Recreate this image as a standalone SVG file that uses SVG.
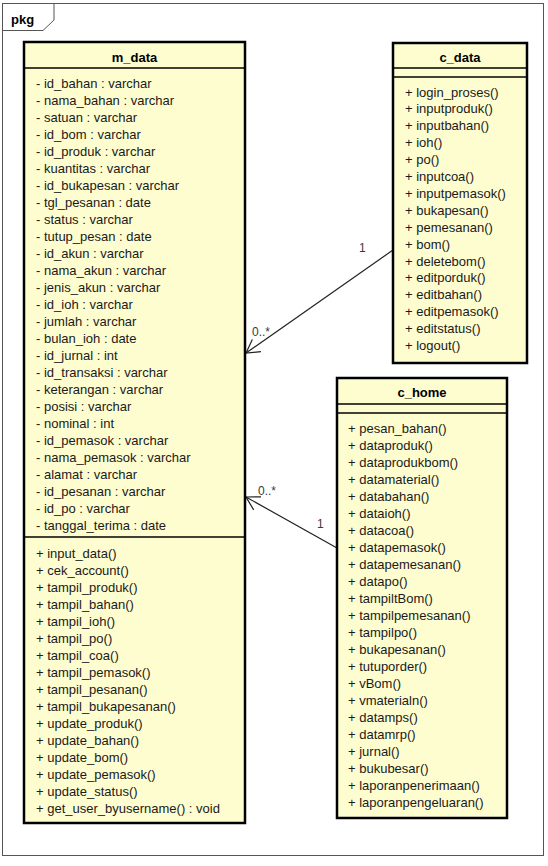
<svg xmlns="http://www.w3.org/2000/svg" width="548" height="866" viewBox="0 0 548 866">
<defs>
<style>
.box{fill:#fefdd0;stroke:#000;stroke-width:2.5}
.sep{stroke:#000;stroke-width:1.5}
.t{font-family:"Liberation Sans",Arial,sans-serif;font-size:13px;fill:#1a1a1a}
.h{font-family:"Liberation Sans",Arial,sans-serif;font-size:13px;font-weight:bold;fill:#000;text-anchor:middle}
.lbl{font-family:"Liberation Sans",Arial,sans-serif;font-size:12px;fill:#3a3a3a}
.con{stroke:#222;stroke-width:1.2;fill:none}
</style>
<marker id="arr" markerWidth="20" markerHeight="20" refX="14" refY="8" orient="auto" markerUnits="userSpaceOnUse" overflow="visible">
<path d="M1,0.5 L14,8 L1,15.5" fill="none" stroke="#222" stroke-width="1.2"/>
</marker>
</defs>
<rect width="548" height="866" fill="#fff"/>
<g id="frame">
<rect x="2.5" y="3.5" width="541" height="852" fill="none" stroke="#555" stroke-width="1"/>
<path d="M2.5,30.5 L43,30.5 L54,20 L54,3.5" fill="none" stroke="#555" stroke-width="1"/>
<text x="11" y="24" style="font-family:'Liberation Sans',Arial,sans-serif;font-size:13px;font-weight:bold;fill:#000">pkg</text>
</g>
<g id="connectors">
<line class="con" x1="393" y1="250" x2="246" y2="353" marker-end="url(#arr)"/>
<text class="lbl" x="359" y="252">1</text>
<text class="lbl" x="252" y="336">0..*</text>
<line class="con" x1="337" y1="548" x2="246" y2="497" marker-end="url(#arr)"/>
<text class="lbl" x="258" y="495">0..*</text>
<text class="lbl" x="317" y="528">1</text>
</g>
<g id="m_data">
<rect class="box" x="24" y="42" width="221" height="781"/>
<line class="sep" x1="24" y1="68" x2="245" y2="68"/>
<line class="sep" x1="24" y1="537" x2="245" y2="537"/>
<text class="h" x="134.5" y="62">m_data</text>
<text class="t" x="36" y="88">- id_bahan : varchar</text>
<text class="t" x="36" y="105">- nama_bahan : varchar</text>
<text class="t" x="36" y="122">- satuan : varchar</text>
<text class="t" x="36" y="139">- id_bom : varchar</text>
<text class="t" x="36" y="156">- id_produk : varchar</text>
<text class="t" x="36" y="173">- kuantitas : varchar</text>
<text class="t" x="36" y="190">- id_bukapesan : varchar</text>
<text class="t" x="36" y="207">- tgl_pesanan : date</text>
<text class="t" x="36" y="224">- status : varchar</text>
<text class="t" x="36" y="241">- tutup_pesan : date</text>
<text class="t" x="36" y="258">- id_akun : varchar</text>
<text class="t" x="36" y="275">- nama_akun : varchar</text>
<text class="t" x="36" y="292">- jenis_akun : varchar</text>
<text class="t" x="36" y="309">- id_ioh : varchar</text>
<text class="t" x="36" y="326">- jumlah : varchar</text>
<text class="t" x="36" y="343">- bulan_ioh : date</text>
<text class="t" x="36" y="360">- id_jurnal : int</text>
<text class="t" x="36" y="377">- id_transaksi : varchar</text>
<text class="t" x="36" y="394">- keterangan : varchar</text>
<text class="t" x="36" y="411">- posisi : varchar</text>
<text class="t" x="36" y="428">- nominal : int</text>
<text class="t" x="36" y="445">- id_pemasok : varchar</text>
<text class="t" x="36" y="462">- nama_pemasok : varchar</text>
<text class="t" x="36" y="479">- alamat : varchar</text>
<text class="t" x="36" y="496">- id_pesanan : varchar</text>
<text class="t" x="36" y="513">- id_po : varchar</text>
<text class="t" x="36" y="530">- tanggal_terima : date</text>
<text class="t" x="36" y="558">+ input_data()</text>
<text class="t" x="36" y="575">+ cek_account()</text>
<text class="t" x="36" y="592">+ tampil_produk()</text>
<text class="t" x="36" y="609">+ tampil_bahan()</text>
<text class="t" x="36" y="626">+ tampil_ioh()</text>
<text class="t" x="36" y="643">+ tampil_po()</text>
<text class="t" x="36" y="660">+ tampil_coa()</text>
<text class="t" x="36" y="677">+ tampil_pemasok()</text>
<text class="t" x="36" y="694">+ tampil_pesanan()</text>
<text class="t" x="36" y="711">+ tampil_bukapesanan()</text>
<text class="t" x="36" y="728">+ update_produk()</text>
<text class="t" x="36" y="745">+ update_bahan()</text>
<text class="t" x="36" y="762">+ update_bom()</text>
<text class="t" x="36" y="779">+ update_pemasok()</text>
<text class="t" x="36" y="796">+ update_status()</text>
<text class="t" x="36" y="813">+ get_user_byusername() : void</text>
</g>
<g id="c_data">
<rect class="box" x="393" y="43" width="134" height="320"/>
<line class="sep" x1="393" y1="68" x2="527" y2="68"/>
<line class="sep" x1="393" y1="77" x2="527" y2="77"/>
<text class="h" x="460" y="62">c_data</text>
<text class="t" x="405" y="96.5">+ login_proses()</text>
<text class="t" x="405" y="113.4">+ inputproduk()</text>
<text class="t" x="405" y="130.3">+ inputbahan()</text>
<text class="t" x="405" y="147.2">+ ioh()</text>
<text class="t" x="405" y="164.1">+ po()</text>
<text class="t" x="405" y="181">+ inputcoa()</text>
<text class="t" x="405" y="197.9">+ inputpemasok()</text>
<text class="t" x="405" y="214.8">+ bukapesan()</text>
<text class="t" x="405" y="231.7">+ pemesanan()</text>
<text class="t" x="405" y="248.6">+ bom()</text>
<text class="t" x="405" y="265.5">+ deletebom()</text>
<text class="t" x="405" y="282.4">+ editporduk()</text>
<text class="t" x="405" y="299.3">+ editbahan()</text>
<text class="t" x="405" y="316.2">+ editpemasok()</text>
<text class="t" x="405" y="333.1">+ editstatus()</text>
<text class="t" x="405" y="350">+ logout()</text>
</g>
<g id="c_home">
<rect class="box" x="337" y="378" width="170" height="440"/>
<line class="sep" x1="337" y1="404" x2="507" y2="404"/>
<line class="sep" x1="337" y1="413" x2="507" y2="413"/>
<text class="h" x="422" y="397">c_home</text>
<text class="t" x="348" y="432.5">+ pesan_bahan()</text>
<text class="t" x="348" y="449.5">+ dataproduk()</text>
<text class="t" x="348" y="466.5">+ dataprodukbom()</text>
<text class="t" x="348" y="483.5">+ datamaterial()</text>
<text class="t" x="348" y="500.5">+ databahan()</text>
<text class="t" x="348" y="517.5">+ dataioh()</text>
<text class="t" x="348" y="534.5">+ datacoa()</text>
<text class="t" x="348" y="551.5">+ datapemasok()</text>
<text class="t" x="348" y="568.5">+ datapemesanan()</text>
<text class="t" x="348" y="585.5">+ datapo()</text>
<text class="t" x="348" y="602.5">+ tampiltBom()</text>
<text class="t" x="348" y="619.5">+ tampilpemesanan()</text>
<text class="t" x="348" y="636.5">+ tampilpo()</text>
<text class="t" x="348" y="653.5">+ bukapesanan()</text>
<text class="t" x="348" y="670.5">+ tutuporder()</text>
<text class="t" x="348" y="687.5">+ vBom()</text>
<text class="t" x="348" y="704.5">+ vmaterialn()</text>
<text class="t" x="348" y="721.5">+ datamps()</text>
<text class="t" x="348" y="738.5">+ datamrp()</text>
<text class="t" x="348" y="755.5">+ jurnal()</text>
<text class="t" x="348" y="772.5">+ bukubesar()</text>
<text class="t" x="348" y="789.5">+ laporanpenerimaan()</text>
<text class="t" x="348" y="806.5">+ laporanpengeluaran()</text>
</g>
</svg>
